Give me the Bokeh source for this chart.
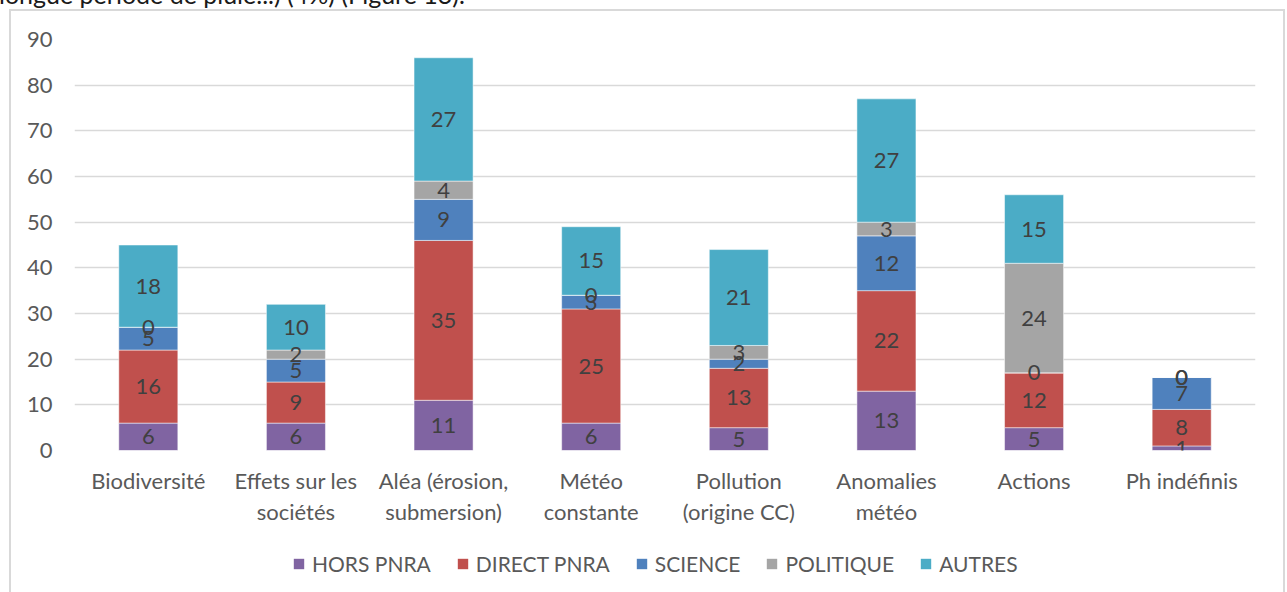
from bokeh.plotting import figure
from bokeh.layouts import column
from bokeh.models import FactorRange, Range1d, FixedTicker, Legend, ColumnDataSource, Div
from bokeh.core.properties import value
from bokeh.embed import file_html
from bokeh.resources import INLINE

categories = ["Biodiversité", "Effets sur les\nsociétés", "Aléa (érosion,\nsubmersion)",
              "Météo\nconstante", "Pollution\n(origine CC)", "Anomalies\nmétéo", "Actions", "Ph indéfinis"]
series = ["HORS PNRA", "DIRECT PNRA", "SCIENCE", "POLITIQUE", "AUTRES"]
hors_pnra = [6, 6, 11, 6, 5, 13, 5, 1]
direct_pnra = [16, 9, 35, 25, 13, 22, 12, 8]
science = [5, 5, 9, 3, 2, 12, 0, 7]
politique = [0, 2, 4, 0, 3, 3, 24, 0]
autres = [18, 10, 27, 15, 21, 27, 15, 0]
colors = ["#8064A2", "#C0504D", "#4F81BD", "#A5A5A5", "#4BACC6"]
y_ticks = [0, 10, 20, 30, 40, 50, 60, 70, 80, 90]
caption_above = "longue période de pluie...) (4%) (Figure 13)."

FONT = "Lato"
FS = "22px"
values = [hors_pnra, direct_pnra, science, politique, autres]
data = {"cat": categories}
for name, vals in zip(series, values):
    data[name] = vals
source = ColumnDataSource(data)

W = 1272
p = figure(x_range=FactorRange(*categories, range_padding=0), y_range=Range1d(0, 90),
           width=W, height=529, output_backend="svg", toolbar_location=None,
           min_border_left=63, min_border_right=28, min_border_top=28, min_border_bottom=90)
p.outline_line_color = None
p.background_fill_color = "white"
p.border_fill_color = "white"

p.vbar_stack(series, x="cat", width=0.4, color=colors, source=source,
             line_color="white", line_alpha=0.5, line_width=1)

# data labels, centred on each stacked segment
lx, ly, lt = [], [], []
for i, c in enumerate(categories):
    base = 0
    for vals in values:
        v = vals[i]
        lx.append(c)
        ly.append(base + v / 2)
        lt.append(str(v))
        base += v
p.text(x=lx, y=ly, text=lt, text_align="center", text_baseline="middle",
       text_font=value(FONT), text_font_size=FS, text_color="#404040")

p.xgrid.grid_line_color = None
p.ygrid.grid_line_color = "#D9D9D9"
p.ygrid.grid_line_width = 1.5
p.yaxis.ticker = FixedTicker(ticks=y_ticks)
p.yaxis.axis_line_color = None
p.yaxis.major_tick_line_color = None
p.yaxis.minor_tick_line_color = None
p.yaxis.major_label_text_font = FONT
p.yaxis.major_label_text_font_size = FS
p.yaxis.major_label_text_color = "#595959"
p.yaxis.major_label_standoff = 16

p.xaxis.axis_line_color = None
p.xaxis.major_tick_line_color = None
p.xaxis.major_label_text_font = FONT
p.xaxis.major_label_text_font_size = FS
p.xaxis.major_label_text_color = "#595959"
p.xaxis.major_label_text_line_height = 1.17
p.xaxis.major_label_standoff = 10

# legend strip (separate small figure underneath, legend inside its frame)
pl = figure(x_range=FactorRange(*categories, range_padding=0), y_range=Range1d(1000, 1001),
            width=W, height=52, output_backend="svg", toolbar_location=None,
            min_border_left=0, min_border_right=0, min_border_top=0, min_border_bottom=0,
            x_axis_type=None, y_axis_type=None)
pl.outline_line_color = None
pl.grid.grid_line_color = None
pl.border_fill_color = "white"
leg_renderers = pl.vbar_stack(series, x="cat", width=0.4, color=colors, source=source,
                              line_color=None)
legend = Legend(items=[(s, [r]) for s, r in zip(series, leg_renderers)],
                orientation="horizontal", location=(218, 16))
legend.label_text_font = FONT
legend.label_text_font_size = "21px"
legend.label_text_color = "#595959"
legend.glyph_width = 13
legend.glyph_height = 13
legend.label_standoff = 7
legend.spacing = 25
legend.border_line_color = None
legend.background_fill_alpha = 0
legend.padding = 0
legend.margin = 0
pl.add_layout(legend)

chart = column(p, pl, spacing=0,
               styles={"margin-left": "9px",
                       "border-left": "2px solid #D9D9D9",
                       "border-top": "2px solid #D9D9D9",
                       "border-right": "2px solid #D9D9D9"})

top_text = Div(text=('<div style="position:relative; top:-17px; left:-1px; white-space:nowrap; '
                     'font-family:Lato; font-size:25px; line-height:22px; color:#1a1a1a;">'
                     + caption_above + '</div>'),
               width=700, height=9, margin=0)

layout = column(top_text, chart, spacing=0)

open("out.html", "w").write(file_html(layout, INLINE))
